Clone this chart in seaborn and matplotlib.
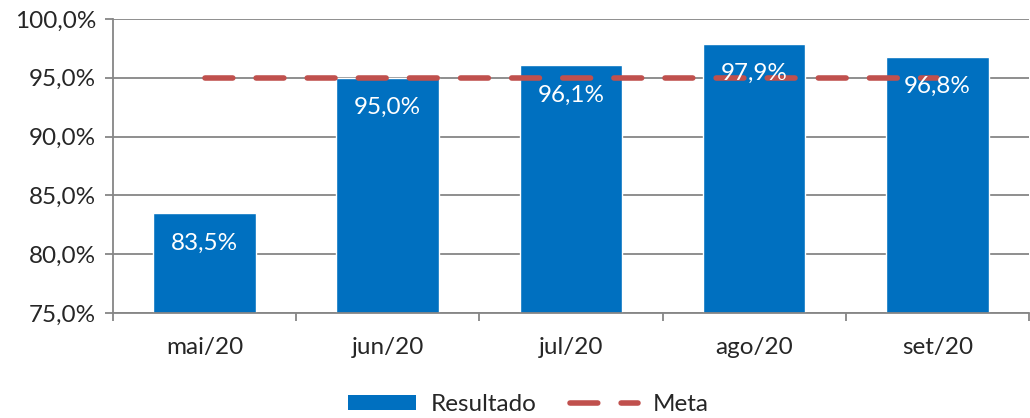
import numpy as np
import pandas as pd
import matplotlib
matplotlib.use("Agg")
import matplotlib.pyplot as plt
import seaborn as sns
from matplotlib.lines import Line2D
from matplotlib.patches import Patch
from matplotlib.ticker import FuncFormatter, FixedLocator

meses = ["mai/20", "jun/20", "jul/20", "ago/20", "set/20"]
resultado = [83.5, 95.0, 96.1, 97.9, 96.8]
meta = [95.0, 95.0, 95.0, 95.0, 95.0]

df = pd.DataFrame({"mes": meses, "resultado": resultado, "meta": meta})

sns.set_style("white")
plt.rcParams["font.family"] = ["Lato", "DejaVu Sans"]

azul = "#0070C0"
vermelho = "#C0504D"
cinza = "#868686"
fs = 17.5

fig = plt.figure(figsize=(10.3, 4.18), dpi=100)
ax = fig.add_axes([113 / 1030, 1 - 313 / 418, 1 - 113 / 1030 - 0.001, (313 - 19) / 418])

ax.set_axisbelow(True)
ax.yaxis.grid(True, color=cinza, linewidth=1.3)
sns.barplot(data=df, x="mes", y="resultado", color=azul, width=0.56,
            saturation=1, ax=ax, zorder=2)
ax.plot(range(len(meses)), df["meta"], color=vermelho, linewidth=4,
        linestyle=(0, (5, 4.2)), dash_capstyle="round", zorder=3)

for i, v in enumerate(resultado):
    ax.annotate(f"{v:.1f}%".replace(".", ","), (i, v), xytext=(0, -30),
                textcoords="offset pixels", ha="center", va="center",
                color="white", fontsize=fs, zorder=4)

ax.set_ylim(75, 100)
ax.set_xlim(-0.5, len(meses) - 0.5)
ax.set_yticks(np.arange(75, 100.1, 5))
ax.yaxis.set_major_formatter(FuncFormatter(lambda v, p: f"{v:.1f}%".replace(".", ",")))
ax.xaxis.set_minor_locator(FixedLocator(np.arange(-0.5, len(meses), 1)))
ax.tick_params(axis="y", which="major", left=True, length=6, width=1.3,
               color=cinza, labelsize=fs, pad=6)
ax.tick_params(axis="x", which="major", bottom=False, labelsize=fs, pad=14)
ax.tick_params(axis="x", which="minor", bottom=True, length=6, width=1.3, color=cinza)
ax.set_xlabel("")
ax.set_ylabel("")

for s in ["top", "right"]:
    ax.spines[s].set_visible(False)
for s in ["left", "bottom"]:
    ax.spines[s].set_color(cinza)
    ax.spines[s].set_linewidth(1.3)

handles = [Patch(facecolor=azul, edgecolor="none"),
           Line2D([0], [0], color=vermelho, linewidth=4, linestyle=(0, (5, 4.2)),
                  dash_capstyle="round")]
fig.legend(handles, ["Resultado", "Meta"], loc="center", bbox_to_anchor=(0.513, 0.032),
           ncol=2, frameon=False, fontsize=fs, handlelength=2.8, handleheight=0.55,
           columnspacing=1.4, handletextpad=0.6)

fig.savefig("out.png", dpi=100)
